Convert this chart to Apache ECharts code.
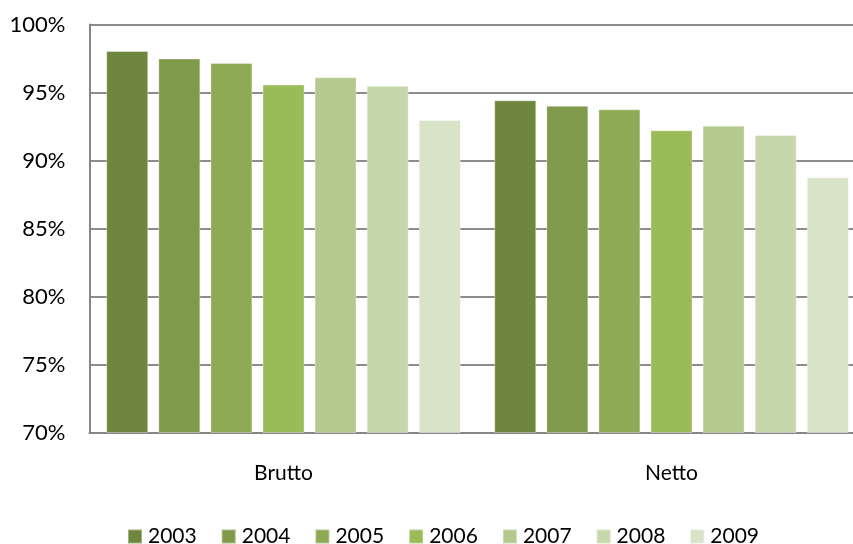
<!DOCTYPE html>
<html>
<head>
<meta charset="utf-8">
<script src="https://cdn.jsdelivr.net/npm/echarts@6/dist/echarts.min.js"></script>
<style>
  html, body { margin: 0; padding: 0; background: #ffffff; overflow: hidden; width: 853px; height: 544px; }
  /* the plot runs a little past the right edge of the page, so the canvas is wider than the view */
  #chart { width: 866px; height: 544px; }
</style>
</head>
<body>
<div id="chart"></div>
<script>
// Share (%) per year, gross vs. net
const categories = ['Brutto', 'Netto'];
const years = ['2003', '2004', '2005', '2006', '2007', '2008', '2009'];
const v2003 = [98.05, 94.43];
const v2004 = [97.5, 94.03];
const v2005 = [97.17, 93.76];
const v2006 = [95.58, 92.22];
const v2007 = [96.12, 92.56];
const v2008 = [95.5, 91.87];
const v2009 = [92.98, 88.76];
const yTicks = [70, 75, 80, 85, 90, 95, 100];

const values = [v2003, v2004, v2005, v2006, v2007, v2008, v2009];
const colors = ['#6f863f', '#7f9a4a', '#8faa54', '#9bbb59', '#b3c98e', '#c7d7ac', '#d9e3c7'];
const font = 'Lato, "Open Sans", sans-serif';

const chart = echarts.init(document.getElementById('chart'), null, { renderer: 'canvas' });
chart.setOption({
  animation: false,
  backgroundColor: '#ffffff',
  grid: { left: 89.5, top: 24.5, width: 776, height: 408, containLabel: false },
  legend: {
    data: years,
    bottom: -8,
    left: 122,
    itemWidth: 14,
    itemHeight: 14,
    itemGap: 24,
    icon: 'rect',
    textStyle: { fontFamily: font, fontSize: 21, color: '#000000', padding: [0, 0, 0, 1] }
  },
  xAxis: {
    type: 'category',
    data: categories,
    axisLine: { lineStyle: { color: '#868686', width: 2 } },
    axisTick: { show: false },
    axisLabel: { fontFamily: font, fontSize: 21, color: '#000000', margin: 30 }
  },
  yAxis: {
    type: 'value',
    min: yTicks[0],
    max: yTicks[yTicks.length - 1],
    interval: 5,
    axisLine: { show: true, lineStyle: { color: '#868686', width: 2 } },
    axisTick: { show: false },
    splitLine: { lineStyle: { color: '#8c8c8c', width: 2 } },
    axisLabel: { fontFamily: font, fontSize: 22, color: '#000000', margin: 24, formatter: '{value}%' }
  },
  series: years.map((y, i) => ({
    name: y,
    type: 'bar',
    data: values[i],
    barWidth: 42,
    barGap: '24%',
    itemStyle: { color: colors[i], borderColor: 'rgba(255,255,255,0.35)', borderWidth: 1 }
  }))
});
</script>
</body>
</html>
